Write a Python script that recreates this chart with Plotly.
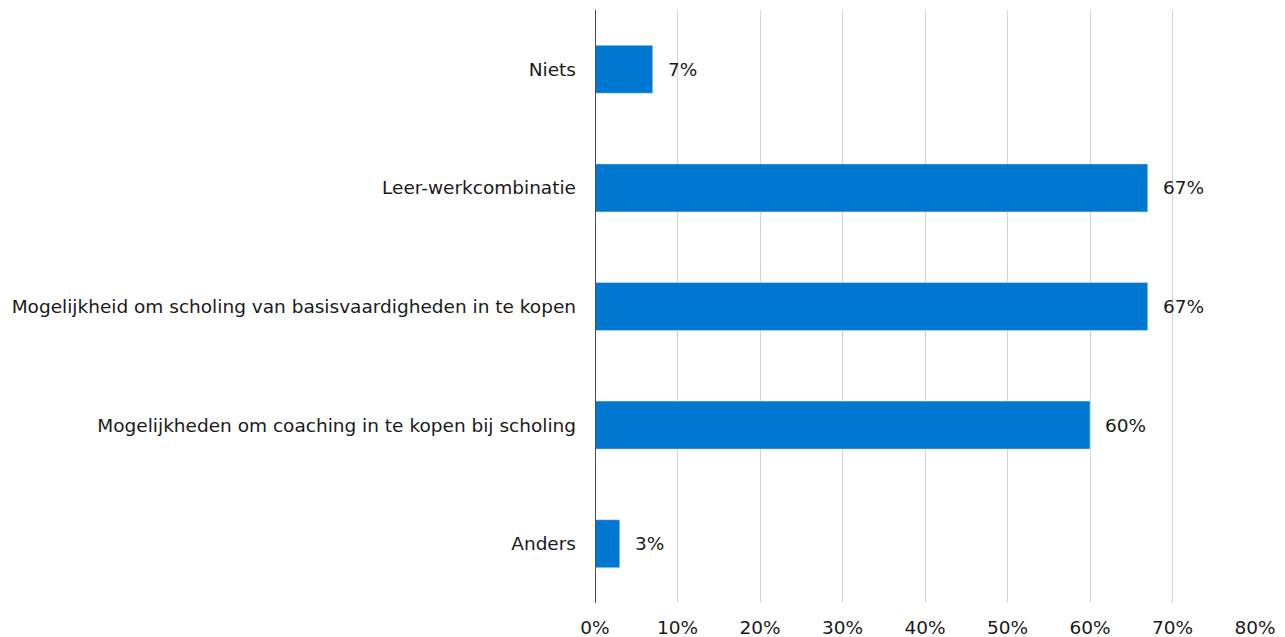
import plotly.graph_objects as go

# Survey answers, top to bottom as shown in the chart
categories = [
    "Niets",
    "Leer-werkcombinatie",
    "Mogelijkheid om scholing van basisvaardigheden in te kopen",
    "Mogelijkheden om coaching in te kopen bij scholing",
    "Anders",
]
values = [7, 67, 67, 60, 3]
x_ticks = [0, 10, 20, 30, 40, 50, 60, 70, 80]
x_tick_labels = [f"{t}%" for t in x_ticks]

BAR_COLOR = "#0078D2"
TEXT_COLOR = "#1a1a1a"
FONT = "Verdana, DejaVu Sans, sans-serif"
FONT_SIZE = 18.5

fig = go.Figure(go.Bar(
    x=values,
    y=categories,
    orientation="h",
    marker_color=BAR_COLOR,
    width=0.405,
    hoverinfo="skip",
))

# Value labels to the right of each bar
for cat, val in zip(categories, values):
    fig.add_annotation(
        x=val, y=cat,
        text=f"{val}%",
        xanchor="left",
        xshift=13,
        showarrow=False,
        font=dict(family=FONT, size=FONT_SIZE, color=TEXT_COLOR),
    )

# the page body adds an 8px margin, so the margins are set 8px smaller
fig.update_layout(
    width=1285,
    height=637,
    margin=dict(l=587, r=38, t=2, b=42),
    plot_bgcolor="white",
    paper_bgcolor="white",
    showlegend=False,
    font=dict(family=FONT, size=FONT_SIZE, color=TEXT_COLOR),
    xaxis=dict(
        range=[0, 80],
        tickvals=x_ticks,
        ticktext=x_tick_labels,
        showgrid=True,
        gridcolor="#D4D4D4",
        gridwidth=1,
        zeroline=False,
        showline=False,
        ticks="",
        ticklabelstandoff=11,
        fixedrange=True,
    ),
    yaxis=dict(
        categoryorder="array",
        categoryarray=categories[::-1],
        showgrid=False,
        zeroline=False,
        showline=False,
        ticks="",
        ticklabelstandoff=18,
        fixedrange=True,
    ),
)

# Dark baseline at 0%
fig.add_vline(x=0, line_color="#4d4d4d", line_width=2)

fig.write_html("out.html")
